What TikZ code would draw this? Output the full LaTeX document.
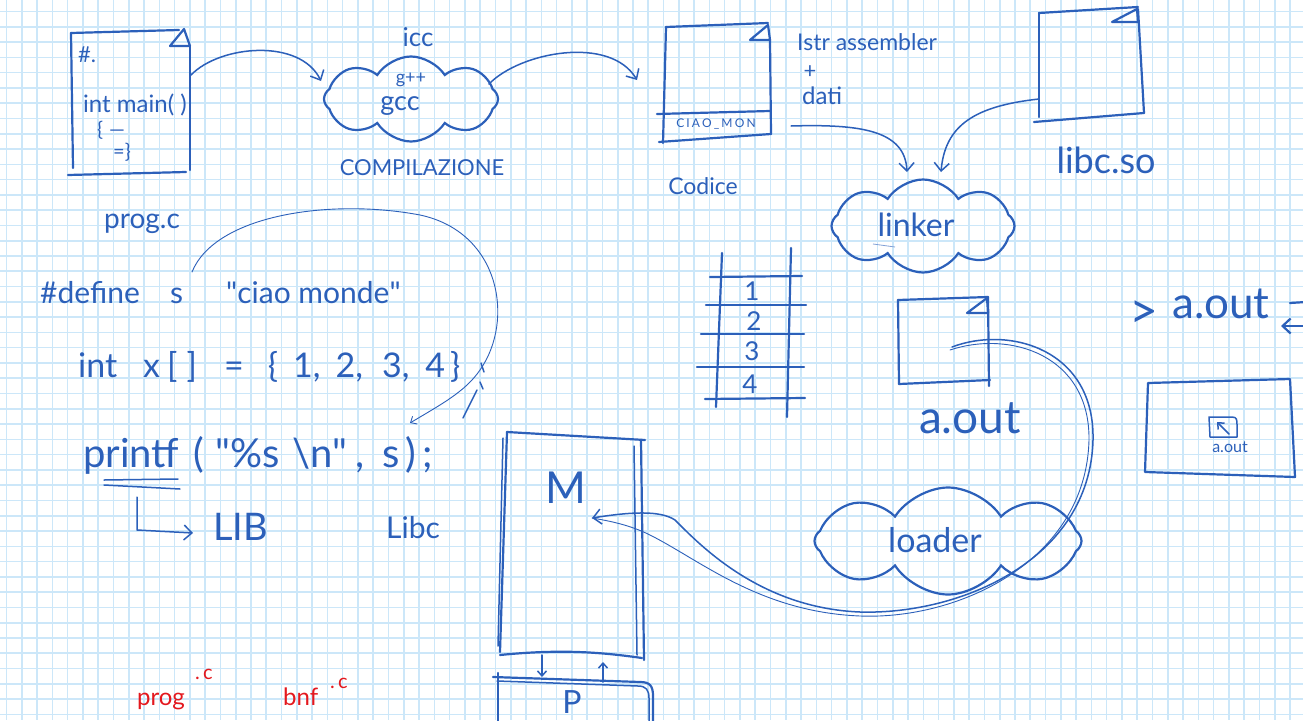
\documentclass[tikz,border=0pt]{standalone}
\usepackage{fontspec}
\setmainfont{Lato}
\newfontfamily\qfont{Lato}
\usetikzlibrary{arrows.meta,shapes.symbols}
\definecolor{ink}{RGB}{44,96,186}
\definecolor{redink}{RGB}{228,24,30}
\definecolor{gridblue}{RGB}{204,231,249}
\newcommand{\fsz}[1]{\fontsize{#1}{#1}\selectfont}
\newcommand{\dq}{{\qfont "}}
\tikzset{
  gridline/.style={draw=gridblue, line width=1.6pt},
  pen/.style={draw=ink, line width=2.2pt, line cap=round, line join=round},
  midpen/.style={draw=ink, line width=1.5pt, line cap=round, line join=round},
  thinpen/.style={draw=ink, line width=0.9pt, line cap=round, line join=round},
  barb/.style={-{Straight Barb[length=8pt,width=15pt]}},
  smallbarb/.style={-{Straight Barb[length=5pt,width=9pt]}},
  hand/.style={text=ink, inner sep=0pt},
  redhand/.style={text=redink, inner sep=0pt},
  cloudbox/.style={cloud, cloud puffs=8, cloud puff arc=115, draw=ink,
    line width=2.2pt, inner sep=0pt},
}
\begin{document}
\begin{tikzpicture}[x=1pt,y=-1pt]
\useasboundingbox (0,0) rectangle (1303,720);
\clip (0,0) rectangle (1303,720);
\fill[white] (0,0) rectangle (1303,720);
% squared paper
\foreach \i in {0,...,85} \draw[gridline] ({6.5+15.28*\i},0) -- ({6.5+15.28*\i},720);
\foreach \j in {0,...,46} \draw[gridline] (0,{11.5+15.28*\j}) -- (1303,{11.5+15.28*\j});

% ---------- source file prog.c ----------
\draw[pen] (71,33) -- (179,30);
\draw[pen] (71,33) -- (73,168);
\draw[pen] (190,46) -- (190,170);
\draw[pen] (68,175) -- (186,172);
\draw[pen] (170,46) -- (184,29) -- (190,46) -- cycle;
\node[hand, font=\fsz{22}, anchor=base west] (hash) at (78,62) {\#.};
\node[hand, font=\fsz{24}, anchor=base west] (mainfn) at (83,112) {int main( )};
\node[hand, font=\fsz{20}, anchor=base west] (body1) at (97,136) {\{\hspace{6pt}—};
\node[hand, font=\fsz{20}, anchor=base west] (body2) at (113,158) {=\}};
\node[hand, font=\fsz{28}, anchor=base west] (progc) at (104,228) {prog.c};
\coordinate (progout) at (191,75);

% ---------- compiler ----------
\node[cloudbox, minimum width=174pt, minimum height=85pt] (compiler) at (411,99) {};
\node[hand, font=\fsz{26}, anchor=base] (icc) at (418,46) {icc};
\node[hand, font=\fsz{18}, anchor=base] (gpp) at (411,83) {g++};
\node[hand, font=\fsz{27}, anchor=base] (gcc) at (400,110) {gcc};
\node[hand, font=\fsz{22}] (compil) at (422,168) {COMPILAZIONE};
\coordinate (compin) at (321,81);
\coordinate (compout) at (489,84);
\draw[midpen, barb] (progout) .. controls (220,45) and (300,38) .. (compin);

% ---------- object code ----------
\draw[pen] (666,27) -- (768,23);
\draw[pen] (666,27) -- (663,143);
\draw[pen] (770,40) -- (771,134);
\draw[pen] (657,114) -- (770,111);
\draw[pen] (659,142) -- (771,134);
\draw[pen] (750,40) -- (768,25) -- (770,40) -- cycle;
\node[hand, font=\fsz{12}, anchor=center] (ciao) at (716,124) {\addfontfeatures{LetterSpace=18}CIAO\_MON};
\node[hand, font=\fsz{23}] (codice) at (703,186) {Codice};
\node[hand, font=\fsz{23}, anchor=base west] (istr) at (797,50) {Istr assembler};
\node[hand, font=\fsz{22}] (plus) at (810,72) {+};
\node[hand, font=\fsz{24}, anchor=base west] (dati) at (802,104) {dati};
\coordinate (codein) at (637,80);
\coordinate (codeout) at (791,126);
\draw[midpen, barb] (compout) .. controls (520,52) and (610,35) .. (codein);

% ---------- shared library ----------
\draw[pen] (1039,13) -- (1138,7);
\draw[pen] (1039,13) -- (1039,117);
\draw[pen] (1138,9) -- (1144,113);
\draw[pen] (1034,122) -- (1144,113);
\draw[pen] (1112,22) -- (1137,9) -- (1138,22) -- cycle;
\node[hand, font=\fsz{36}] (libcso) at (1106,160) {libc.so};
\coordinate (libout) at (1039,99);

% ---------- linker ----------
\node[cloudbox, minimum width=183pt, minimum height=93pt] (linker) at (923,226) {};
\node[hand, font=\fsz{32}] (linktext) at (916,225) {linker};
\draw[ink!60, line width=0.8pt] (873,244) -- (895,247);
\coordinate (linkin1) at (907,172);
\coordinate (linkin2) at (941,172);
\draw[midpen, barb] (codeout) .. controls (860,124) and (905,130) .. (linkin1);
\draw[midpen, barb] (libout) .. controls (975,106) and (945,125) .. (linkin2);

% ---------- array in memory ----------
\draw[pen] (722,253) -- (716,407);
\draw[pen] (791,248) -- (787,417);
\draw[pen] (710,277) -- (802,276);
\draw[pen] (706,305) -- (806,305);
\draw[pen] (701,334) -- (804,334);
\draw[pen] (697,367) -- (804,367);
\draw[pen] (705,399) -- (805,398);
\node[hand, font=\fsz{26}] (c1) at (752,291) {1};
\node[hand, font=\fsz{26}] (c2) at (754,321) {2};
\node[hand, font=\fsz{26}] (c3) at (752,351) {3};
\node[hand, font=\fsz{26}] (c4) at (750,384) {4};

% ---------- executable ----------
\draw[pen] (898,300) -- (988,297);
\draw[pen] (898,300) -- (899,384);
\draw[pen] (988,297) -- (989,386);
\draw[pen] (899,384) -- (990,380);
\draw[pen] (967,313) -- (987,298) -- (988,313) -- cycle;
\node[hand, font=\fsz{46}] (aout) at (970,418) {a.out};
\coordinate (aoutsrc) at (952,347);

% ---------- loader ----------
\node[cloudbox, minimum width=267pt, minimum height=107pt] (loader) at (948,541) {};
\node[hand, font=\fsz{34}] (loadtext) at (935,540) {loader};

% ---------- memory ----------
\draw[pen] (507,432) -- (645,440);
\draw[pen] (507,432) -- (500,652);
\draw[midpen] (503,438) -- (498,646);
\draw[pen] (641,440) -- (644,660);
\draw[midpen] (634,446) -- (637,655);
\draw[pen] (500,655) .. controls (560,649) and (600,652) .. (642,658);
\node[hand, font=\fsz{44}] (mem) at (566,488) {M};
\coordinate (mtip) at (592,518);
\draw[midpen, barb] (aoutsrc) .. controls (1010,325) and (1095,350) .. (1093,440)
   .. controls (1090,560) and (960,615) .. (860,612)
   .. controls (760,608) and (700,545) .. (675,520)
   .. controls (660,510) and (630,512) .. (mtip);
\draw[thinpen] (950,350) .. controls (1010,330) and (1090,355) .. (1089,440)
   .. controls (1086,560) and (960,620) .. (860,616)
   .. controls (760,612) and (700,560) .. (650,535)
   .. controls (630,525) and (610,521) .. (mtip);

% ---------- processor ----------
\draw[pen] (493,677) -- (640,682) .. controls (650,682) and (653,686) .. (653,696) -- (653,725);
\draw[midpen] (497,681) -- (638,686) .. controls (646,686) and (649,690) .. (649,698) -- (649,725);
\draw[pen] (498,673) -- (498,725);
\node[hand, font=\fsz{32}, anchor=north] (proc) at (572,690) {P};
\coordinate (mbot) at (542,655);
\coordinate (ptop) at (542,677);
\coordinate (pup) at (603,682);
\coordinate (mup) at (603,662);
\draw[midpen, smallbarb] (mbot) -- (ptop);
\draw[midpen, smallbarb] (pup) -- (mup);

% ---------- source lines ----------
\node[hand, font=\fsz{30}, anchor=base west] (define) at (40,303) {\#define};
\node[hand, font=\fsz{30}, anchor=base west] (sname) at (170,303) {s};
\node[hand, font=\fsz{30}, anchor=base west] (ciaostr) at (226,303) {\dq ciao monde\dq};
\node[hand, font=\fsz{34}, anchor=base west] (intkw) at (78,377) {int};
\node[hand, font=\fsz{34}, anchor=base west] (xarr) at (143,377) {x\hspace{7pt}[\hspace{9pt}]};
\node[hand, font=\fsz{34}, anchor=base west] (xinit) at (224,377)
  {=\hspace{24pt}\{\hspace{15pt}1,\hspace{15pt}2,\hspace{19pt}3,\hspace{16pt}4\hspace{5pt}\}};
\node[hand, font=\fsz{40}, anchor=base west] (printf) at (83,467) {printf};
\node[hand, font=\fsz{40}, anchor=base west] (pargs) at (193,467)
  {(\hspace{12pt}\dq\%s\hspace{12pt}\textbackslash n\dq\hspace{8pt},\hspace{18pt}s\hspace{6pt})\hspace{6pt};};
\draw[midpen] (104,480) -- (178,479);
\draw[midpen] (104,485) -- (180,489);
\coordinate (libfrom) at (137,497);
\coordinate (libto) at (193,533);
\draw[midpen, barb] (libfrom) -- (137,530) -- (libto);
\node[hand, font=\fsz{38}, anchor=base west] (libtxt) at (213,540) {LIB};
\node[hand, font=\fsz{30}, anchor=base west] (libctxt) at (386,538) {Libc};
% strokes after the closing brace
\draw[midpen] (481,363) -- (484,372);
\draw[midpen] (463,418) -- (477,390);
\draw[midpen] (480,382) -- (483,389);
% macro substitution
\coordinate (sdef) at (192,272);
\coordinate (suse) at (410,423);
\draw[thinpen, smallbarb] (sdef) .. controls (215,215) and (330,198) .. (420,215)
  .. controls (500,232) and (515,320) .. (480,370)
  .. controls (465,392) and (440,405) .. (suse);

% ---------- shell ----------
\node[hand, font=\fsz{50}, anchor=base west] (prompt) at (1129,328) {>};
\node[hand, font=\fsz{44}, anchor=base west] (cmd) at (1172,318) {a.out};
\draw[pen] (1290,303) -- (1306,302);
\coordinate (retfrom) at (1306,326);
\coordinate (retto) at (1281,326);
\draw[pen, barb] (retfrom) -- (retto);
\draw[pen] (1148,383) -- (1290,379) -- (1295,477) -- (1145,472) -- cycle;
\draw[midpen] (1209,417) -- (1232,417) .. controls (1237,417) and (1237,420) .. (1237,425)
  -- (1237,437) -- (1210,437) -- cycle;
\coordinate (iconfrom) at (1229,434);
\coordinate (iconto) at (1217,422);
\draw[midpen, smallbarb] (iconfrom) -- (iconto);
\node[hand, font=\fsz{16}, anchor=base] (smallaout) at (1230,452) {a.out};

% ---------- file names ----------
\node[redhand, font=\fsz{24}, anchor=base west] (redprog) at (137,705) {prog};
\node[redhand, font=\fsz{20}, anchor=base west] (redprogc) at (195,679) {.\,c};
\node[redhand, font=\fsz{24}, anchor=base west] (redbnf) at (283,705) {bnf};
\node[redhand, font=\fsz{20}, anchor=base west] (redbnfc) at (330,688) {.\,c};
\end{tikzpicture}
\end{document}
